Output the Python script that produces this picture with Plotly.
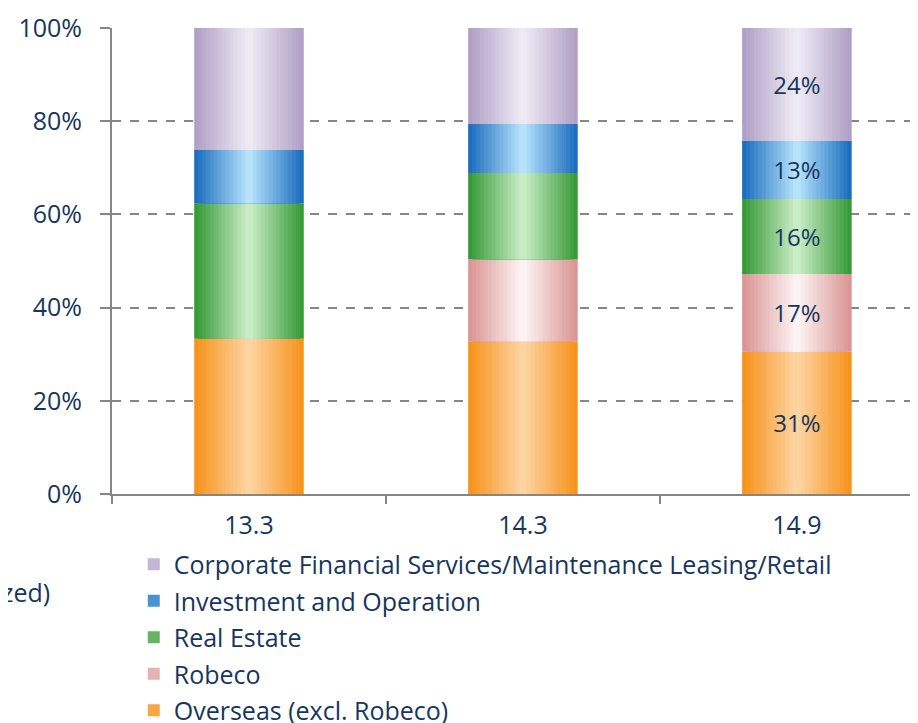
import plotly.graph_objects as go

# data (share of segment, %)
periods = ["13.3", "14.3", "14.9"]
overseas = [33.3, 32.8, 30.5]
robeco = [0.0, 17.6, 16.7]
real_estate = [29.1, 18.5, 16.1]
investment = [11.4, 10.5, 12.5]
corporate = [26.2, 20.6, 24.2]
labels_149 = ["31%", "17%", "16%", "13%", "24%"]

names = ["Overseas (excl. Robeco)", "Robeco", "Real Estate",
         "Investment and Operation",
         "Corporate Financial Services/Maintenance Leasing/Retail"]
values = [overseas, robeco, real_estate, investment, corporate]
# edge colour, centre colour for the horizontal gradient
shades = [
    ("#f7941d", "#fdd3a0"),
    ("#d99694", "#fdf3f3"),
    ("#389a38", "#c8edc6"),
    ("#1c6ebf", "#b6e2fb"),
    ("#b1a0c6", "#eeeaf4"),
]

TXT = "#17365d"
FONT = "Open Sans"
FS = 25
BAR_W = 0.4
N = 14


def mix(c1, c2, t):
    a = [int(c1[i:i + 2], 16) for i in (1, 3, 5)]
    b = [int(c2[i:i + 2], 16) for i in (1, 3, 5)]
    return "rgb(%d,%d,%d)" % tuple(round(a[j] + (b[j] - a[j]) * t) for j in range(3))


fig = go.Figure()

bases = [0.0] * len(periods)
for i, name in enumerate(names):
    vals = values[i]
    edge, centre = shades[i]
    for k in range(N):
        t = k / (N - 1)
        fig.add_trace(go.Bar(
            x=periods, y=vals, base=bases, width=BAR_W * (1 - k / N),
            marker=dict(color=mix(edge, centre, t), line=dict(width=0)),
            name=name, legendgroup=name, legendrank=5 - i,
            showlegend=(k == N // 3), hoverinfo="skip",
        ))
    # transparent bar on top carrying the labels
    fig.add_trace(go.Bar(
        x=periods, y=vals, base=bases, width=BAR_W,
        marker=dict(color="rgba(0,0,0,0)", line=dict(width=0)),
        text=["", "", labels_149[i]], textposition="inside",
        insidetextanchor="middle",
        textfont=dict(color=TXT, size=FS - 1, family=FONT),
        showlegend=False, hoverinfo="skip",
    ))
    bases = [b + v for b, v in zip(bases, vals)]

fig.add_annotation(
    text="(annualized)", xref="paper", yref="paper",
    x=-0.0744, y=-0.21, xanchor="right", yanchor="middle",
    showarrow=False, font=dict(color=TXT, size=FS, family=FONT),
)

# page body has an 8px margin, so the figure is 8px smaller each way
fig.update_layout(
    width=910, height=715,
    barmode="overlay",
    plot_bgcolor="white", paper_bgcolor="white",
    margin=dict(l=104, r=0, t=20, b=229, autoexpand=False),
    font=dict(family=FONT, size=FS, color=TXT),
    legend=dict(
        x=0.027, y=-0.102, xanchor="left", yanchor="top",
        font=dict(size=FS, color=TXT, family=FONT),
        tracegroupgap=1, bgcolor="rgba(0,0,0,0)",
    ),
    xaxis=dict(
        type="category", range=[-0.5, 2.442], automargin=False,
        showline=True, linecolor="#868686", linewidth=2,
        ticks="outside", tickson="boundaries", ticklen=8,
        tickcolor="#868686", tickwidth=2,
        showgrid=False, tickfont=dict(size=FS, color=TXT),
        ticklabelstandoff=8,
    ),
    yaxis=dict(
        range=[0, 100], dtick=20, ticksuffix="%", automargin=False,
        showline=True, linecolor="#868686", linewidth=2,
        ticks="outside", ticklen=10, tickcolor="#868686", tickwidth=2,
        showgrid=True, gridcolor="#868686", gridwidth=1.5, griddash="dash",
        zeroline=False, tickfont=dict(size=FS, color=TXT),
        ticklabelstandoff=13,
    ),
)

fig.write_html("out.html")
